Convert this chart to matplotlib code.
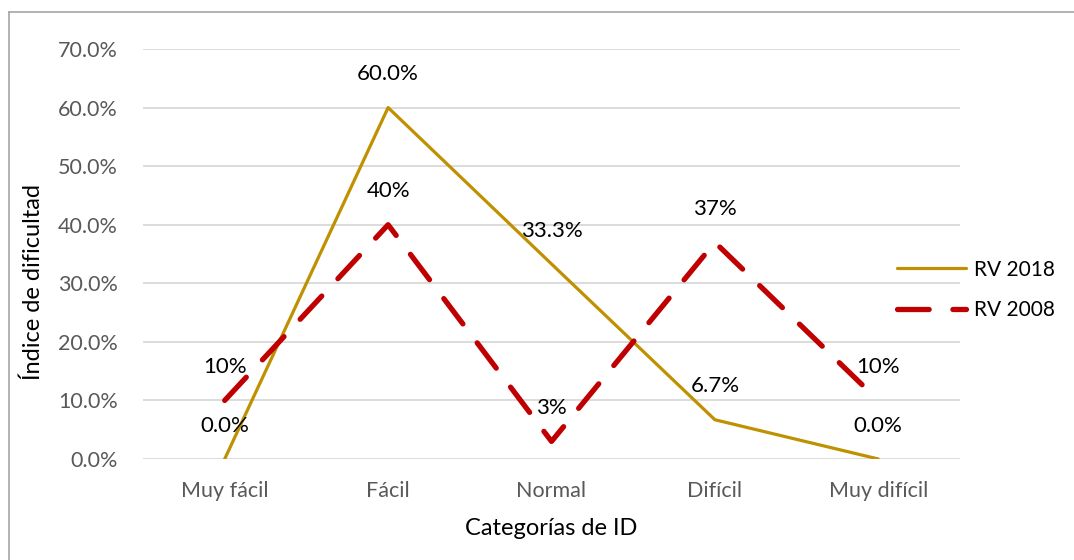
import matplotlib.pyplot as plt
from matplotlib.lines import Line2D
from matplotlib.ticker import FuncFormatter

plt.rcParams['font.family'] = ['Lato', 'DejaVu Sans']

categorias = ['Muy fácil', 'Fácil', 'Normal', 'Difícil', 'Muy difícil']
rv_2018 = [0.0, 60.0, 33.3, 6.7, 0.0]
rv_2008 = [10, 40, 3, 37, 10]

W, H = 1074, 560
fig = plt.figure(figsize=(W / 100, H / 100), dpi=100)
ax = fig.add_axes([143 / W, 1 - 459 / H, 817 / W, 410 / H])

x = range(len(categorias))
l1, = ax.plot(x, rv_2018, color='#BF9000', lw=2.3, label='RV 2018', solid_capstyle='round')
l2, = ax.plot(x, rv_2008, color='#C00000', lw=3.8, label='RV 2008',
              dashes=(6, 4.5), dash_capstyle='round')

# etiquetas de datos sobre cada punto
for i, v in enumerate(rv_2018):
    ax.annotate(f'{v:.1f}%', (i, v), xytext=(0, 24), textcoords='offset points',
                ha='center', va='center', fontsize=16, color='black')
for i, v in enumerate(rv_2008):
    ax.annotate(f'{v:.0f}%', (i, v), xytext=(0, 24), textcoords='offset points',
                ha='center', va='center', fontsize=16, color='black')

ax.set_xlim(-0.5, len(categorias) - 0.5)
ax.set_ylim(0, 70)
ax.set_yticks(range(0, 71, 10))
ax.yaxis.set_major_formatter(FuncFormatter(lambda v, p: f'{v:.1f}%'))
ax.set_xticks(list(x))
ax.set_xticklabels(categorias)
ax.tick_params(length=0, labelsize=15.5, colors='#595959', pad=16)
ax.tick_params(axis='y', pad=18)
ax.grid(axis='y', color='#D9D9D9', lw=1.3)
ax.set_axisbelow(True)
for s in ax.spines.values():
    s.set_visible(False)

ax.set_xlabel('Categorías de ID', fontsize=17, labelpad=12)
ax.set_ylabel('Índice de dificultad', fontsize=17)
ax.yaxis.set_label_coords(-0.121, 0.432)

fig.legend(handles=[l1, l2], loc='center left', bbox_to_anchor=(878 / W, 1 - 290 / H),
           frameon=False, fontsize=15, handlelength=3.3, handletextpad=0.4,
           labelspacing=1.0)

# borde del área del gráfico
fig.add_artist(Line2D([9 / W, 1], [1 - 12 / H, 1 - 12 / H], color='#A6A6A6', lw=1.2,
                      transform=fig.transFigure))
fig.add_artist(Line2D([9 / W, 9 / W], [0, 1 - 12 / H], color='#A6A6A6', lw=1.2,
                      transform=fig.transFigure))

fig.savefig('out.png', dpi=100)
